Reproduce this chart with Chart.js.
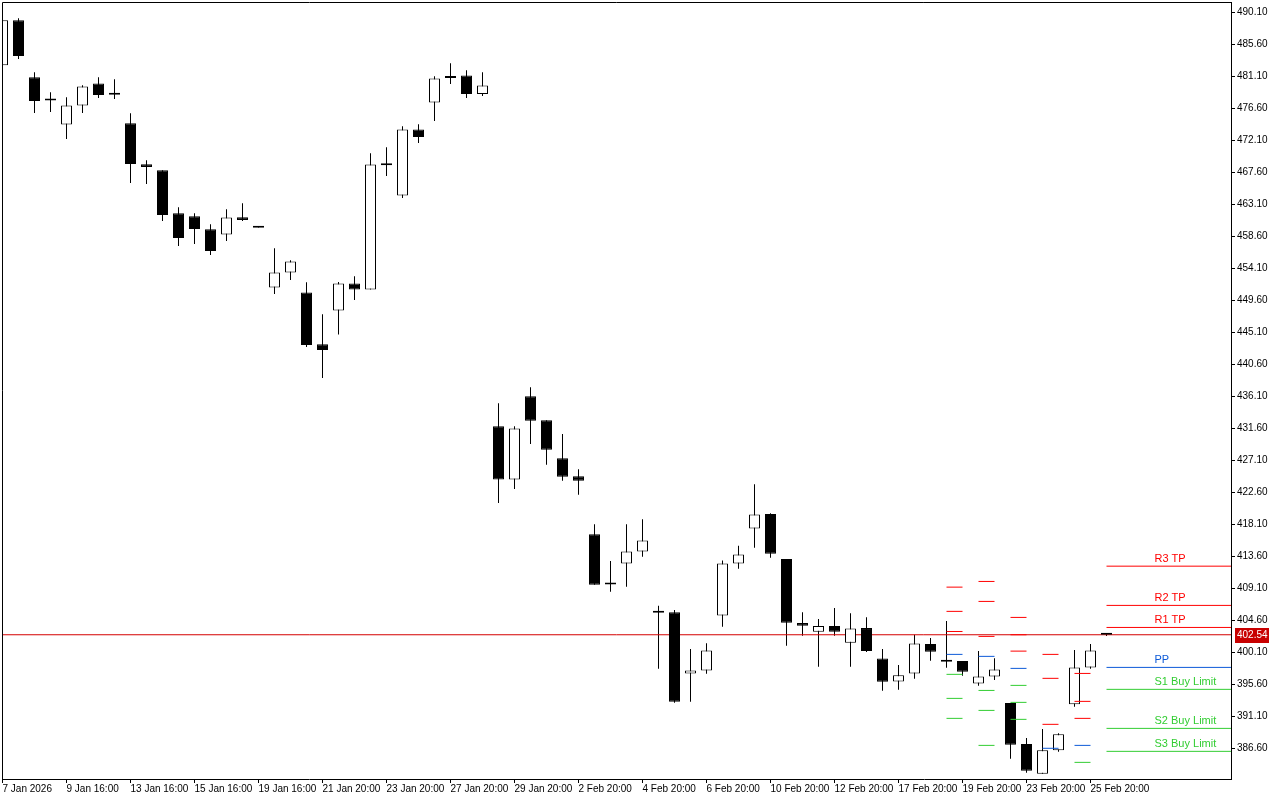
<!DOCTYPE html>
<html>
<head>
<meta charset="utf-8">
<title>Gráfico H12</title>
<script src="https://cdn.jsdelivr.net/npm/chart.js@4.4.1/dist/chart.umd.min.js"></script>
<style>
    html, body { margin: 0; padding: 0; background: #fff; }
    #wrap { width: 1280px; height: 800px; }
</style>
</head>
<body>
<div id="wrap"><canvas id="grafico" width="1280" height="800"></canvas></div>
<script>
// ====================================================================
// DADOS: velas de 12h (abertura, máxima, mínima, fechamento)
// ====================================================================
const opens  = [482.65, 488.98, 480.96, 477.68, 474.31, 476.98, 480.07, 478.55, 474.49, 468.72,
                467.88, 461.83, 461.41, 459.59, 458.84, 461.27, 459.85, 451.39, 453.49, 450.68,
                443.41, 448.15, 451.96, 451.10, 468.60, 464.32, 473.60, 477.40, 480.85, 481.20,
                478.61, 431.88, 424.39, 436.10, 432.73, 427.38, 424.85, 416.69, 409.65, 412.57,
                414.26, 405.65, 405.72, 397.10, 397.53, 405.26, 412.57, 417.50, 419.51, 413.18,
                404.18, 402.96, 403.76, 401.41, 403.48, 399.21, 395.98, 397.10, 401.23, 398.98,
                398.84, 395.70, 396.68, 392.93, 387.16, 382.99, 386.28, 392.75, 397.95, 402.54];
const highs  = [488.98, 489.26, 481.66, 478.85, 478.15, 479.83, 480.96, 480.68, 475.90, 469.29,
                467.88, 462.68, 461.83, 460.29, 462.40, 463.24, 459.87, 456.91, 455.23, 452.13,
                447.63, 452.15, 452.97, 470.27, 471.12, 474.07, 474.35, 481.10, 482.93, 481.94,
                481.66, 435.12, 431.88, 437.37, 432.73, 430.79, 425.83, 418.10, 412.90, 418.10,
                418.80, 406.61, 406.01, 400.52, 401.36, 412.99, 415.05, 423.72, 419.65, 413.18,
                405.72, 404.74, 406.29, 405.58, 405.02, 400.52, 398.27, 402.54, 402.07, 404.46,
                398.84, 400.24, 399.24, 392.93, 388.01, 389.27, 388.67, 400.38, 401.23, 402.70];
const lows   = [482.65, 483.53, 475.94, 476.08, 472.28, 475.94, 478.05, 477.91, 466.10, 465.96,
                460.75, 457.24, 457.52, 455.97, 457.94, 460.75, 459.78, 450.49, 452.46, 443.03,
                438.67, 444.78, 449.64, 451.10, 467.08, 463.99, 471.72, 474.81, 480.02, 478.05,
                478.33, 421.09, 423.06, 429.39, 426.44, 424.19, 422.22, 409.56, 408.58, 409.28,
                413.50, 397.75, 392.97, 393.11, 397.05, 403.66, 411.81, 414.77, 413.36, 400.99,
                402.39, 398.03, 402.39, 398.03, 400.10, 394.66, 394.80, 396.35, 398.88, 397.89,
                396.77, 395.36, 396.16, 385.10, 383.13, 382.99, 386.08, 392.41, 397.75, 402.38];
const closes = [488.98, 483.96, 477.63, 477.96, 476.98, 479.65, 478.47, 478.50, 468.77, 468.34,
                461.60, 458.36, 459.63, 456.53, 461.23, 460.89, 459.80, 453.49, 455.04, 443.31,
                442.61, 451.96, 451.12, 468.68, 468.65, 473.60, 472.56, 480.78, 480.95, 478.61,
                479.79, 424.39, 431.56, 432.63, 428.55, 424.75, 424.19, 409.56, 409.60, 414.26,
                415.81, 405.70, 393.11, 397.53, 400.34, 412.57, 413.84, 419.46, 413.92, 404.22,
                403.80, 403.76, 402.96, 403.43, 400.24, 395.93, 396.83, 401.32, 400.15, 398.74,
                397.33, 396.68, 397.67, 387.07, 383.41, 386.28, 388.53, 397.95, 400.34, 402.54];

// rótulos do eixo de tempo (uma marca a cada 4 velas)
const timeLabels = ['7 Jan 2026', '9 Jan 16:00', '13 Jan 16:00', '15 Jan 16:00', '19 Jan 16:00',
                    '21 Jan 20:00', '23 Jan 20:00', '27 Jan 20:00', '29 Jan 20:00', '2 Feb 20:00',
                    '4 Feb 20:00', '6 Feb 20:00', '10 Feb 20:00', '12 Feb 20:00', '17 Feb 20:00',
                    '19 Feb 20:00', '23 Feb 20:00', '25 Feb 20:00'];
const timeLabelStep = 4;

// marcas do eixo de preço
const priceTicks = [490.10, 485.60, 481.10, 476.60, 472.10, 467.60, 463.10, 458.60, 454.10, 449.60,
                    445.10, 440.60, 436.10, 431.60, 427.10, 422.60, 418.10, 413.60, 409.10, 404.60,
                    400.10, 395.60, 391.10, 386.60];

const bidPrice = 402.54;

// pivôs dos dias anteriores (vela onde começa cada traço)
const pivotBars = [59, 61, 63, 65, 67];
const histR3 = [409.24, 410.04, 404.98, 399.78, 397.10];
const histR2 = [405.83, 407.23, 402.54, 396.41, 393.17];
const histR1 = [403.00, 402.31, 400.24, 389.94, 390.78];
const histPP = [399.78, 399.50, 397.81, 386.57, 386.98];
const histS1 = [396.97, 394.71, 395.42, null, 384.59];
const histS2 = [393.59, 391.90, 393.03, null, null];
const histS3 = [390.78, 386.98, 390.64, null, null];

// pivôs do dia atual
const currentPivotBar = 69;
const pivotNames  = ['R3 TP', 'R2 TP', 'R1 TP', 'PP', 'S1 Buy Limit', 'S2 Buy Limit', 'S3 Buy Limit'];
const pivotLevels = [412.19, 406.67, 403.57, 397.95, 394.86, 389.37, 386.14];

// ====================================================================
// CORES E ESCALAS
// ====================================================================
const RED = '#ff0000';
const BLUE = '#0d5ad8';
const GREEN = '#32cd32';
const BID_RED = '#d40000';
const levelColors = [RED, RED, RED, BLUE, GREEN, GREEN, GREEN];

const X_MIN = -0.03125;   // vela 0 no pixel 2.5
const X_MAX = 76.78125;
const Y_MIN = 382.25;
const Y_MAX = 491.55;

// ====================================================================
// MONTA OS DATASETS
// ====================================================================
const bodies = opens.map((o, i) => ({ x: i, y: [o, closes[i]] }));
const wicks = lows.map((l, i) => ({ x: i, y: [l, highs[i]] }));
const bodyColors = opens.map((o, i) => closes[i] >= o ? '#ffffff' : '#000000');

const datasets = [
    {
        type: 'bar', data: wicks, backgroundColor: '#000', borderWidth: 0,
        barThickness: 1, grouped: false, inflateAmount: 0, order: 3
    },
    {
        type: 'line', data: [{ x: X_MIN, y: bidPrice }, { x: X_MAX, y: bidPrice }],
        borderColor: BID_RED, borderWidth: 1, pointRadius: 0, order: 2
    },
    {
        type: 'bar', data: bodies, backgroundColor: bodyColors, borderColor: '#000',
        borderWidth: 1, borderSkipped: false, barThickness: 11, minBarLength: 2,
        grouped: false, inflateAmount: 0, order: 1
    }
];

// traços históricos: um dataset por nível, com null para separar os dias
const histLevels = [histR3, histR2, histR1, histPP, histS1, histS2, histS3];
histLevels.forEach((arr, li) => {
    const pts = [];
    arr.forEach((v, di) => {
        if (v === null) return;
        pts.push({ x: pivotBars[di], y: v }, { x: pivotBars[di] + 1, y: v }, { x: pivotBars[di] + 1, y: null });
    });
    datasets.push({
        type: 'line', data: pts, borderColor: levelColors[li], borderWidth: 1,
        pointRadius: 0, spanGaps: false, order: 0
    });
});

// linhas do dia atual até a borda direita
pivotLevels.forEach((v, li) => {
    datasets.push({
        type: 'line', data: [{ x: currentPivotBar, y: v }, { x: X_MAX, y: v }],
        borderColor: levelColors[li], borderWidth: 1, pointRadius: 0, order: 0
    });
});

// ====================================================================
// PLUGIN: moldura, rótulos dos pivôs e etiqueta do preço atual
// ====================================================================
const extrasPlugin = {
    id: 'extras',
    afterDraw(chart) {
        const { ctx, chartArea, scales } = chart;
        ctx.save();

        // moldura esquerda e superior
        ctx.strokeStyle = '#000';
        ctx.lineWidth = 1;
        ctx.beginPath();
        ctx.moveTo(chartArea.left + 0.5, chartArea.bottom);
        ctx.lineTo(chartArea.left + 0.5, chartArea.top + 0.5);
        ctx.lineTo(chartArea.right, chartArea.top + 0.5);
        ctx.stroke();

        // nomes dos níveis
        ctx.font = "11px 'Liberation Sans', Arial, sans-serif";
        ctx.textBaseline = 'middle';
        ctx.textAlign = 'left';
        const tx = scales.x.getPixelForValue(currentPivotBar + 3);
        pivotLevels.forEach((v, li) => {
            ctx.fillStyle = levelColors[li];
            ctx.fillText(pivotNames[li], tx, scales.y.getPixelForValue(v) - 7);
        });

        // etiqueta do bid no eixo
        const by = Math.round(scales.y.getPixelForValue(bidPrice));
        ctx.fillStyle = '#c80000';
        ctx.fillRect(chartArea.right + 4, by - 7, 34, 15);
        ctx.fillStyle = '#fff';
        ctx.font = "10px 'Liberation Sans', Arial, sans-serif";
        ctx.fillText(bidPrice.toFixed(2), chartArea.right + 6, by + 0.5);
        ctx.restore();
    }
};

Chart.defaults.font.family = "'Liberation Sans', Arial, sans-serif";
Chart.defaults.font.size = 10;
Chart.defaults.color = '#000';

new Chart(document.getElementById('grafico'), {
    type: 'bar',
    data: { datasets: datasets },
    plugins: [extrasPlugin],
    options: {
        responsive: false,
        animation: false,
        events: [],
        layout: { padding: { left: 2, top: 2, right: 0, bottom: 0 } },
        plugins: { legend: { display: false }, tooltip: { enabled: false } },
        scales: {
            x: {
                type: 'linear',
                min: X_MIN,
                max: X_MAX,
                offset: false,
                grid: { drawOnChartArea: false, offset: false, tickLength: 4, color: '#000' },
                border: { color: '#000', width: 1 },
                ticks: {
                    autoSkip: false, maxRotation: 0, minRotation: 0, align: 'start', padding: 0,
                    callback: (v) => timeLabels[Math.round(v) / timeLabelStep]
                },
                afterBuildTicks: (scale) => {
                    scale.ticks = timeLabels.map((t, i) => ({ value: i * timeLabelStep }));
                },
                afterFit: (scale) => {
                    scale.height = 21;
                    scale.paddingLeft = 0;
                    scale.paddingRight = 0;
                }
            },
            y: {
                position: 'right',
                min: Y_MIN,
                max: Y_MAX,
                grid: { drawOnChartArea: false, tickLength: 4, color: '#000' },
                border: { color: '#000', width: 1 },
                ticks: { padding: 2, callback: (v) => v.toFixed(2) },
                afterBuildTicks: (scale) => {
                    scale.ticks = priceTicks.map(v => ({ value: v }));
                },
                afterFit: (scale) => {
                    scale.width = 49;
                    scale.paddingTop = 0;
                    scale.paddingBottom = 0;
                }
            }
        }
    }
});
</script>
</body>
</html>
